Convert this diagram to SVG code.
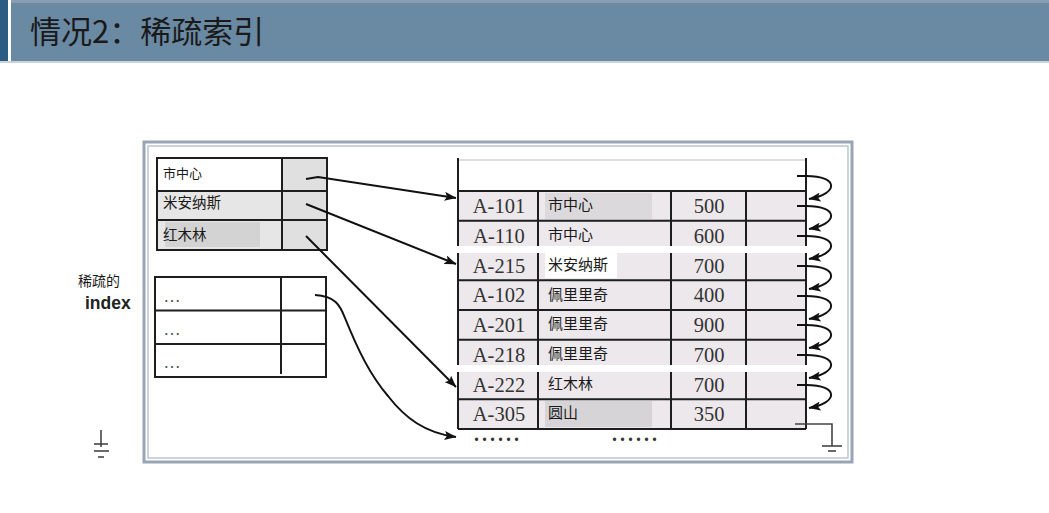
<svg xmlns="http://www.w3.org/2000/svg" width="1049" height="513" viewBox="0 0 1049 513">
<defs>
<marker id="ah" viewBox="0 0 12 9" refX="11.5" refY="4.5" markerWidth="12" markerHeight="9" markerUnits="userSpaceOnUse" orient="auto">
<path d="M0,0 L12,4.5 L0,9 L2.5,4.5 Z" fill="#111"/>
</marker>
<style>
.cjk{font-family:"Noto Sans CJK SC","Noto Sans",sans-serif;fill:#1a1a1a}
.ser{font-family:"Liberation Serif",serif;font-size:20.5px;fill:#333;text-anchor:middle}
.grid{stroke:#1e1e1e;stroke-width:2;fill:none}
.conn{stroke:#111;stroke-width:2;fill:none}
.arr{stroke:#111;stroke-width:2;fill:none;marker-end:url(#ah)}
.gnd{stroke:#444;stroke-width:1.6;fill:none}
.cell{fill:#ece8ec}
</style>
</defs>
<rect width="1049" height="513" fill="#fff"/>
<g id="title-bar">
<rect x="0" y="0" width="8" height="61" fill="#2b5c82"/>
<rect x="11" y="0" width="1038" height="61" fill="#6a89a3"/>
<rect x="11" y="0" width="1038" height="3" fill="#8b9db0"/>
<rect x="0" y="61" width="1049" height="2" fill="#c9d3dc"/>
<text x="30" y="43" class="cjk" font-size="31">情况2：稀疏索引</text>
</g>
<g id="frame">
<rect x="144" y="142" width="708" height="320" fill="#fff" stroke="#97a5b5" stroke-width="3"/>
<rect x="148" y="146" width="700" height="312" fill="none" stroke="#bcc5d0" stroke-width="1.5"/>
</g>
<g id="sparse-label">
<text x="78" y="286" class="cjk" font-size="14">稀疏的</text>
<text x="85" y="309" font-family="Liberation Sans,Arial,sans-serif" font-size="17.5" font-weight="bold" fill="#222">index</text>
</g>
<g id="index-top">
<rect x="157" y="158" width="125" height="33" fill="#fff"/>
<rect x="157" y="191" width="125" height="59" fill="#e6e6e6"/>
<rect x="165" y="222" width="95" height="25" fill="#d3d3d3"/>
<rect x="282" y="158" width="45" height="92" fill="#e0e0e0"/>
<rect x="157" y="158" width="170" height="92" class="grid"/>
<line x1="157" y1="191" x2="327" y2="191" class="grid"/>
<line x1="157" y1="220" x2="327" y2="220" class="grid"/>
<line x1="282" y1="158" x2="282" y2="250" class="grid"/>
<text x="163" y="178" class="cjk" font-size="13">市中心</text>
<text x="163" y="208" class="cjk" font-size="14.5">米安纳斯</text>
<text x="163" y="240" class="cjk" font-size="14.5">红木林</text>
</g>
<g id="index-bottom">
<rect x="155" y="277" width="171" height="100" fill="#fff" class="grid"/>
<line x1="155" y1="310.5" x2="326" y2="310.5" class="grid"/>
<line x1="155" y1="344" x2="326" y2="344" class="grid"/>
<line x1="281" y1="277" x2="281" y2="374" class="grid"/>
<g font-family="Liberation Sans,Arial,sans-serif" font-size="18" fill="#555">
<text x="163" y="302">…</text>
<text x="163" y="335">…</text>
<text x="163" y="368">…</text>
</g>
</g>
<g id="data-file">
<rect x="458" y="160" width="348" height="31" fill="#fff"/>
<rect x="458" y="191" width="348" height="238" class="cell"/>
<rect x="545" y="193" width="107" height="26" fill="#dcd9dc"/>
<rect x="545" y="253" width="72" height="25" fill="#fff"/>
<rect x="545" y="401" width="107" height="26" fill="#d6d4d6"/>
<line x1="458" y1="160" x2="806" y2="160" stroke="#bbb" stroke-width="1"/>
<line x1="458" y1="158" x2="458" y2="429" class="grid"/>
<line x1="806" y1="158" x2="806" y2="429" class="grid"/>
<line x1="538" y1="191" x2="538" y2="429" class="grid"/>
<line x1="671" y1="191" x2="671" y2="429" class="grid"/>
<line x1="746" y1="191" x2="746" y2="429" class="grid"/>
<line x1="458" y1="191" x2="806" y2="191" class="grid"/>
<line x1="458" y1="220.75" x2="806" y2="220.75" class="grid"/>
<line x1="458" y1="280.25" x2="806" y2="280.25" class="grid"/>
<line x1="458" y1="310" x2="806" y2="310" class="grid"/>
<line x1="458" y1="339.75" x2="806" y2="339.75" class="grid"/>
<line x1="458" y1="399.25" x2="806" y2="399.25" class="grid"/>
<line x1="458" y1="429" x2="806" y2="429" class="grid"/>
<rect x="455" y="246" width="356" height="7" fill="#fff"/>
<rect x="455" y="365" width="356" height="7" fill="#fff"/>
<text x="499" y="213" class="ser">A-101</text>
<text x="499" y="243" class="ser">A-110</text>
<text x="499" y="273" class="ser">A-215</text>
<text x="499" y="302" class="ser">A-102</text>
<text x="499" y="332" class="ser">A-201</text>
<text x="499" y="362" class="ser">A-218</text>
<text x="499" y="392" class="ser">A-222</text>
<text x="499" y="421" class="ser">A-305</text>
<g class="cjk" font-size="15">
<text x="548" y="210">市中心</text>
<text x="548" y="240">市中心</text>
<text x="548" y="270">米安纳斯</text>
<text x="548" y="300">佩里里奇</text>
<text x="548" y="329">佩里里奇</text>
<text x="548" y="359">佩里里奇</text>
<text x="548" y="389">红木林</text>
<text x="548" y="418">圆山</text>
</g>
<text x="709" y="213" class="ser">500</text>
<text x="709" y="243" class="ser">600</text>
<text x="709" y="273" class="ser">700</text>
<text x="709" y="302" class="ser">400</text>
<text x="709" y="332" class="ser">900</text>
<text x="709" y="362" class="ser">700</text>
<text x="709" y="392" class="ser">700</text>
<text x="709" y="421" class="ser">350</text>
<g font-family="Liberation Serif,serif" font-size="20" font-weight="bold" fill="#333" letter-spacing="3">
<text x="474" y="441">......</text>
<text x="612" y="441">......</text>
</g>
</g>
<g id="ground-left" class="gnd">
<line x1="101" y1="430" x2="101" y2="447"/>
<line x1="94" y1="444" x2="108" y2="444"/>
<line x1="94" y1="451" x2="109" y2="451"/>
<line x1="98" y1="457" x2="104" y2="457"/>
</g>
<g id="ground-right" class="gnd">
<path d="M795,424 L832,424 L832,446"/>
<line x1="822" y1="446" x2="842" y2="446"/>
<line x1="828" y1="451" x2="836" y2="451"/>
</g>
<g id="connectors">
<path class="arr" d="M306,179 L318,177 L456,198"/>
<path class="arr" d="M306,204 L456,264"/>
<path class="arr" d="M306,236 L456,387"/>
<path class="arr" d="M315,295 C335,296 340,305 345,318 C358,350 370,375 388,396 C405,418 425,433 456,437"/>
<g>
<path class="conn" d="M797,176 L808,176"/>
<path class="arr" d="M806,176 C840,176 838,194 809,199"/>
<path class="conn" d="M797,206 L808,206"/>
<path class="arr" d="M806,206 C840,206 838,224 809,229"/>
<path class="conn" d="M797,236 L808,236"/>
<path class="arr" d="M806,236 C840,236 838,254 809,259"/>
<path class="conn" d="M797,266 L808,266"/>
<path class="arr" d="M806,266 C840,266 838,284 809,289"/>
<path class="conn" d="M797,296 L808,296"/>
<path class="arr" d="M806,296 C840,296 838,314 809,319"/>
<path class="conn" d="M797,325 L808,325"/>
<path class="arr" d="M806,325 C840,325 838,343 809,348"/>
<path class="conn" d="M797,355 L808,355"/>
<path class="arr" d="M806,355 C840,355 838,373 809,378"/>
<path class="conn" d="M797,385 L808,385"/>
<path class="arr" d="M806,385 C840,385 838,403 809,408"/>
</g>
</g>
</svg>
